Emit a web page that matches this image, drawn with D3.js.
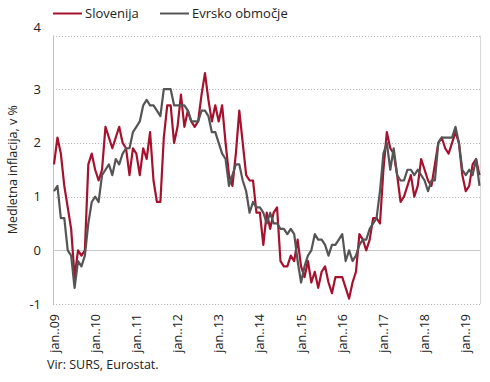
<!DOCTYPE html>
<html><head><meta charset="utf-8">
<script src="https://cdn.jsdelivr.net/npm/d3@7"></script>
<style>body{margin:0;background:#fff} svg{display:block} text{font-family:"Open Sans",sans-serif;fill:#222}</style>
</head><body><svg id="c" width="490" height="382"></svg>
<script>
const monthNames = ["jan","feb","mar","apr","maj","jun","jul","avg","sep","okt","nov","dec"];
const categories = [];
for (let yr = 2009; yr <= 2019; yr++) for (let m = 0; m < 12; m++) { if (yr === 2019 && m > 4) break; categories.push(monthNames[m] + ".." + String(yr).slice(2)); }

const slovenija = [
  1.6, 2.1, 1.8, 1.2, 0.8, 0.4, -0.5, 0.0, -0.1, 0.0, 1.6, 1.8,
  1.5, 1.3, 1.5, 2.3, 2.1, 1.9, 2.1, 2.3, 2.0, 1.9, 1.4, 1.9,
  1.8, 1.4, 1.9, 1.7, 2.2, 1.3, 0.9, 0.9, 2.1, 2.7, 2.7, 2.0,
  2.3, 2.9, 2.3, 2.6, 2.4, 2.3, 2.4, 2.9, 3.3, 2.8, 2.4, 2.7,
  2.4, 2.7, 2.0, 1.4, 1.2, 1.8, 2.6, 2.0, 1.4, 1.3, 1.3, 0.7,
  0.7, 0.1, 0.7, 0.4, 0.7, 0.8, -0.2, -0.3, -0.3, -0.1, -0.2, 0.2,
  -0.3, -0.5, -0.2, -0.6, -0.4, -0.7, -0.4, -0.3, -0.6, -0.8, -0.5, -0.5,
  -0.5, -0.7, -0.9, -0.6, -0.4, 0.3, 0.2, 0.0, 0.2, 0.6, 0.6, 0.5,
  1.5, 2.2, 1.9, 1.8, 1.4, 0.9, 1.0, 1.2, 1.4, 1.0, 1.2, 1.7,
  1.5, 1.3, 1.2, 1.6, 2.0, 2.1, 1.9, 1.8, 2.0, 2.2, 2.0, 1.4,
  1.1, 1.2, 1.6, 1.7, 1.4
];
const evrskoObmocje = [
  1.1, 1.2, 0.6, 0.6, 0.0, -0.1, -0.7, -0.2, -0.3, -0.1, 0.5, 0.9,
  1.0, 0.9, 1.4, 1.5, 1.6, 1.4, 1.7, 1.6, 1.8, 1.9, 1.9, 2.2,
  2.3, 2.4, 2.7, 2.8, 2.7, 2.7, 2.6, 2.5, 3.0, 3.0, 3.0, 2.7,
  2.7, 2.7, 2.7, 2.6, 2.4, 2.4, 2.4, 2.6, 2.6, 2.5, 2.2, 2.2,
  2.0, 1.8, 1.7, 1.2, 1.4, 1.6, 1.6, 1.3, 1.1, 0.7, 0.9, 0.8,
  0.8, 0.7, 0.5, 0.7, 0.5, 0.5, 0.4, 0.4, 0.3, 0.4, 0.3, -0.2,
  -0.6, -0.3, -0.1, 0.0, 0.3, 0.2, 0.2, 0.1, -0.1, 0.1, 0.1, 0.2,
  0.3, -0.2, 0.0, -0.2, -0.1, 0.1, 0.2, 0.2, 0.4, 0.5, 0.6, 1.1,
  1.8, 2.0, 1.5, 1.9, 1.4, 1.3, 1.3, 1.5, 1.5, 1.4, 1.5, 1.4,
  1.3, 1.1, 1.3, 1.3, 2.0, 2.1, 2.1, 2.1, 2.1, 2.3, 2.0, 1.5,
  1.4, 1.5, 1.4, 1.7, 1.2
];
const yTicks = [-1, 0, 1, 2, 3, 4];
const xTickLabels = ["jan..09","jan..10","jan..11","jan..12","jan..13","jan..14","jan..15","jan..16","jan..17","jan..18","jan..19"];
const seriesNames = ["Slovenija", "Evrsko območje"];
const colors = ["#a6122d", "#555555"];

const svg = d3.select("#c");
const pLeft = 53, pRight = 480, pTop = 35.5, pBottom = 304;
const x = d3.scalePoint().domain(categories).range([54, 479.5]);
const y = d3.scaleLinear().domain([-1, 4]).range([pBottom, pTop]);

// gridlines
svg.append("g").selectAll("line").data(yTicks).join("line")
  .attr("x1", pLeft).attr("x2", pRight)
  .attr("y1", d => Math.round(y(d)) + 0.5).attr("y2", d => Math.round(y(d)) + 0.5)
  .attr("stroke", d => d === 0 ? "#c8c8c8" : "#b8b8b8")
  .attr("stroke-width", 1)
  .attr("stroke-dasharray", d => d === 0 ? null : "1.2,1.8");
// left axis & right border
svg.append("line").attr("x1", pLeft + 0.5).attr("x2", pLeft + 0.5).attr("y1", y(4)).attr("y2", y(-1)).attr("stroke", "#c0c0c0");
svg.append("line").attr("x1", pRight + 0.5).attr("x2", pRight + 0.5).attr("y1", y(4)).attr("y2", y(-1)).attr("stroke", "#d8d8d8");

// y tick labels
svg.append("g").selectAll("text").data(yTicks).join("text")
  .attr("x", 41).attr("y", d => d === 4 ? y(d) - 8 : y(d))
  .attr("dy", "0.35em").attr("text-anchor", "end")
  .attr("font-size", 13).text(d => d);

// x tick labels
svg.append("g").selectAll("text").data(xTickLabels).join("text")
  .attr("transform", d => `translate(${x(d) + 4.5},314) rotate(-90)`)
  .attr("text-anchor", "end").attr("font-size", 12.5).text(d => d);

// y title
svg.append("text").attr("transform", `translate(17,${(pTop + pBottom) / 2}) rotate(-90)`)
  .attr("text-anchor", "middle").attr("font-size", 12.5).text("Medletna inflacija, v %");

// lines
const line = d3.line().x((d, i) => x(categories[i])).y(d => y(d));
[slovenija, evrskoObmocje].forEach((s, k) => {
  svg.append("path").datum(s).attr("d", line).attr("fill", "none")
    .attr("stroke", colors[k]).attr("stroke-width", 2.2).attr("stroke-linejoin", "round");
});

// legend
const legX = [53, 160];
seriesNames.forEach((n, k) => {
  svg.append("line").attr("x1", legX[k]).attr("x2", legX[k] + 29).attr("y1", 13.5).attr("y2", 13.5)
    .attr("stroke", colors[k]).attr("stroke-width", 2);
  svg.append("text").attr("x", legX[k] + 32).attr("y", 13.5).attr("dy", "0.35em")
    .attr("font-size", 13).text(n);
});

// source
svg.append("text").attr("x", 47).attr("y", 369).attr("font-size", 12.5).text("Vir: SURS, Eurostat.");
</script></body></html>
